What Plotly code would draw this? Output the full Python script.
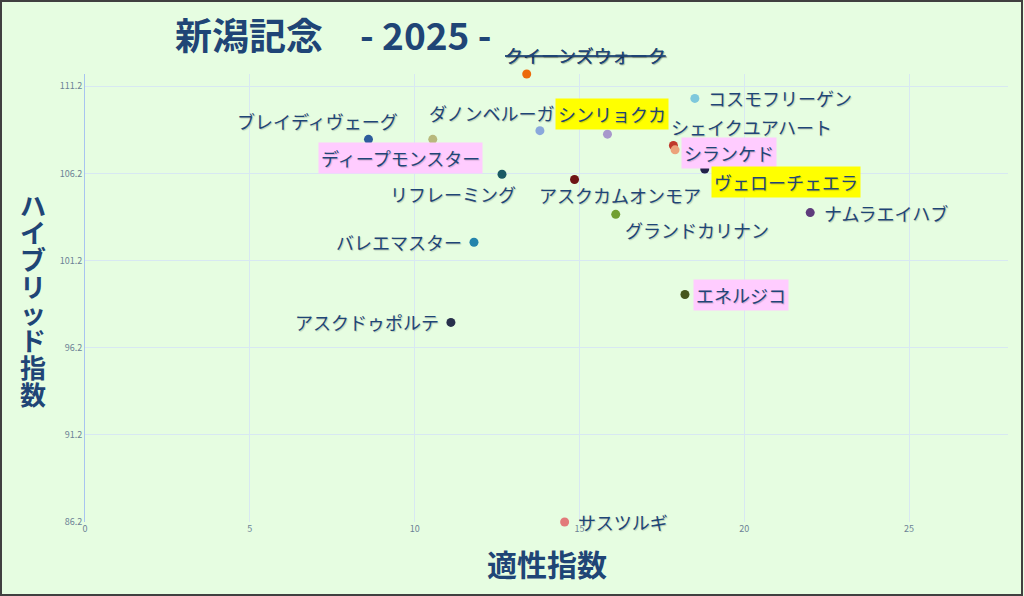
import plotly.graph_objects as go

names = ["クイーンズウォーク", "コスモフリーゲン", "ブレイディヴェーグ", "ディープモンスター",
         "ダノンベルーガ", "シンリョクカ", "シェイクユアハート", "シランケド",
         "リフレーミング", "アスクカムオンモア", "ヴェローチェエラ", "ナムラエイハブ",
         "グランドカリナン", "バレエマスター", "エネルジコ", "アスクドゥポルテ", "サスツルギ"]
aptitude = [13.4, 18.5, 8.6, 10.55, 13.8, 15.85, 17.85, 17.9,
            12.65, 14.85, 18.8, 22.0, 16.1, 11.8, 18.2, 11.1, 14.55]
hybrid = [111.9, 110.5, 108.15, 108.15, 108.65, 108.45, 107.8, 107.55,
          106.15, 105.85, 106.45, 103.95, 103.85, 102.25, 99.25, 97.65, 86.2]
colors = ["#ec6a0c", "#7ec8dc", "#2d5c9c", "#b8b87c", "#8aa8dc", "#a898cc", "#c0392b", "#eca27a",
          "#1b5a64", "#6e1414", "#22224a", "#5e3c7c", "#72a032", "#2484ac", "#46561e", "#28304c", "#e27a7a"]
# label highlight: "", "pink", "yellow", "strike"
highlight = ["strike", "", "", "pink", "", "yellow", "", "pink",
             "", "", "yellow", "", "", "", "pink", "", ""]
# label placement (anchor, xshift, yshift)
placement = [("center", 59, 19), ("left", 10, 0), ("right", 33, 18), ("right", 50, -19),
             ("right", 17, 18), ("center", 5, 20), ("left", -5, 18), ("left", 6, -3),
             ("right", 17, -20), ("center", 45, -16), ("left", 6, -13), ("left", 11, 0),
             ("left", 6, -16), ("right", -9, 0), ("left", 8, 0), ("right", -9, 0), ("left", 10, 0)]

x_ticks = [0, 5, 10, 15, 20, 25]
y_ticks = [86.2, 91.2, 96.2, 101.2, 106.2, 111.2]

title_text = "新潟記念　- 2025 -"
x_title = "適性指数"
y_title = "ハイブリッド指数"

TEXT = "#1f4576"
FONT = "Noto Sans CJK JP"
SHADOW = "1px 1px 1px rgba(0,0,0,0.18)"

fig = go.Figure()
fig.add_trace(go.Scatter(
    x=aptitude, y=hybrid, mode="markers",
    marker=dict(size=9, color=colors, line=dict(width=0)),
    cliponaxis=False, hoverinfo="text", text=names, showlegend=False))

bgmap = {"pink": "#ffccff", "yellow": "#ffff00"}
for n, xv, yv, hl, (anc, xs, ys) in zip(names, aptitude, hybrid, highlight, placement):
    txt = f"<s>{n}</s>" if hl == "strike" else n
    fig.add_annotation(
        x=xv, y=yv, text=txt, showarrow=False, xanchor=anc, yanchor="middle",
        xshift=xs, yshift=ys,
        font=dict(family=FONT, size=18, color=TEXT, shadow=SHADOW),
        bgcolor=bgmap.get(hl, "rgba(0,0,0,0)"), borderpad=2)

fig.add_annotation(xref="paper", yref="paper", x=(333 - 85) / 923, y=1 + (74 - 34) / 448,
                   text=f"<b>{title_text}</b>", showarrow=False, xanchor="center", yanchor="middle",
                   font=dict(family=FONT, size=37, color=TEXT))
fig.add_annotation(xref="paper", yref="paper", x=(547 - 85) / 923, y=-(563 - 522) / 448,
                   text=f"<b>{x_title}</b>", showarrow=False, xanchor="center", yanchor="middle",
                   font=dict(family=FONT, size=30, color=TEXT))
# vertical y-axis title, one character per line
for i, ch in enumerate(y_title):
    cy = 204 + 27 * i
    fig.add_annotation(xref="paper", yref="paper", x=-(85 - 33) / 923, y=(522 - cy) / 448,
                       text=ch, showarrow=False, xanchor="center", yanchor="middle",
                       font=dict(family=FONT, size=26, color=TEXT, weight=600))

# figure border
fig.add_shape(type="rect", xref="paper", yref="paper",
              x0=-(85 - 1) / 923, x1=1 + (1022 - 1008) / 923,
              y0=-(595 - 522) / 448, y1=1 + (74 - 1) / 448,
              line=dict(color="#404040", width=2), layer="above")

fig.update_layout(
    width=1024, height=596,
    margin=dict(l=85, r=16, t=74, b=74),
    paper_bgcolor="#e6fde1", plot_bgcolor="#e6fde1",
    font=dict(family=FONT, color=TEXT),
    xaxis=dict(range=[0, 28], tickvals=x_ticks, ticktext=[str(t) for t in x_ticks],
               showgrid=True, gridcolor="#d8e8f2", gridwidth=1, zeroline=False,
               showline=False, ticks="", tickfont=dict(size=9, color="#6c8296")),
    yaxis=dict(range=[86.2, 111.9], tickvals=y_ticks, ticktext=[f"{t:.1f}" for t in y_ticks],
               showgrid=True, gridcolor="#d8e8f2", gridwidth=1, zeroline=False,
               showline=True, linecolor="#a8c4f0", linewidth=1, ticks="",
               tickfont=dict(size=9, color="#6c8296")),
)

fig.write_html("out.html", config={"displayModeBar": False},
               post_script="document.body.style.margin='0';document.body.style.overflow='hidden';")
